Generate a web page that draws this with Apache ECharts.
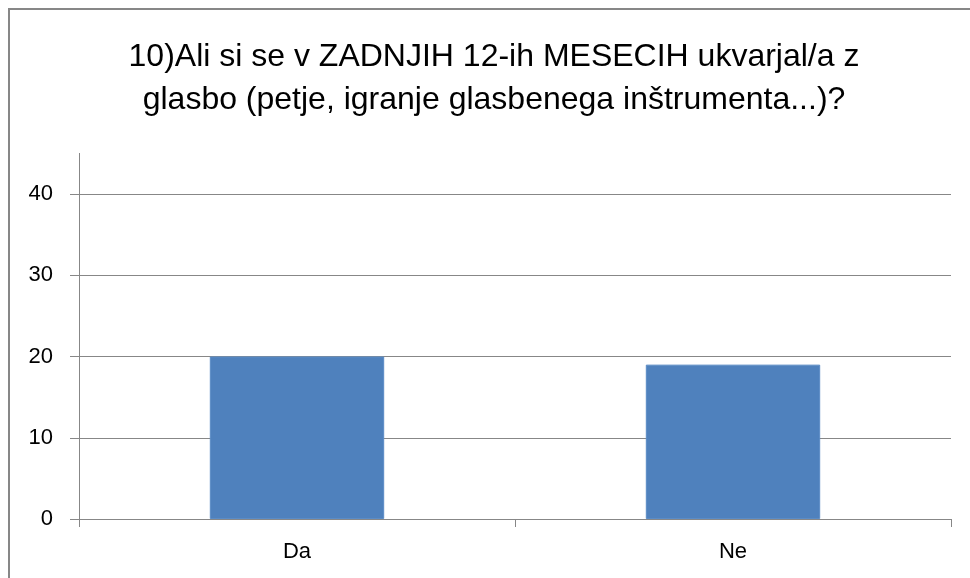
<!DOCTYPE html>
<html>
<head>
<meta charset="utf-8">
<script src="https://cdn.jsdelivr.net/npm/echarts@6/dist/echarts.min.js"></script>
<style>html,body{margin:0;padding:0;background:#fff;}#c{width:970px;height:578px;}</style>
</head>
<body>
<div id="c"></div>
<script>
const titleText = '10)Ali si se v ZADNJIH 12-ih MESECIH ukvarjal/a z\nglasbo (petje, igranje glasbenega inštrumenta...)?';
const categories = ['Da', 'Ne'];
const values = [20, 19];
const yTicks = [0, 10, 20, 30, 40];

const chart = echarts.init(document.getElementById('c'), null, {renderer: 'canvas'});
const FONT = '"Liberation Sans", "DejaVu Sans", sans-serif';
chart.setOption({
  backgroundColor: '#ffffff',
  animation: false,
  title: {
    text: titleText,
    left: 494,
    textAlign: 'center',
    top: 36,
    padding: 0,
    textStyle: {fontFamily: FONT, fontSize: 32, fontWeight: 'normal', color: '#000', lineHeight: 43}
  },
  graphic: [{
    type: 'rect', silent: true,
    shape: {x: 9, y: 9, width: 990, height: 600},
    style: {fill: 'none', stroke: '#878787', lineWidth: 2}
  }],
  grid: {left: 79, right: 19, top: 153.4, bottom: 59, containLabel: false},
  xAxis: {
    type: 'category',
    data: categories,
    axisLine: {lineStyle: {color: '#878787', width: 1}},
    axisTick: {show: true, length: 8, lineStyle: {color: '#878787'}},
    axisLabel: {fontFamily: FONT, fontSize: 22, color: '#000', margin: 22}
  },
  yAxis: {
    type: 'value',
    min: 0, max: 45, interval: 10,
    axisLine: {show: true, lineStyle: {color: '#878787', width: 1}},
    axisTick: {show: true, length: 9, lineStyle: {color: '#878787'}, customValues: yTicks},
    axisLabel: {fontFamily: FONT, fontSize: 22, color: '#000', margin: 26, customValues: yTicks},
    splitLine: {show: true, lineStyle: {color: '#878787', width: 1}}
  },
  series: [{
    type: 'bar',
    data: values,
    barWidth: '40%',
    itemStyle: {color: '#4F81BD', borderColor: '#5B8CC6', borderWidth: 1}
  }]
});
</script>
</body>
</html>
